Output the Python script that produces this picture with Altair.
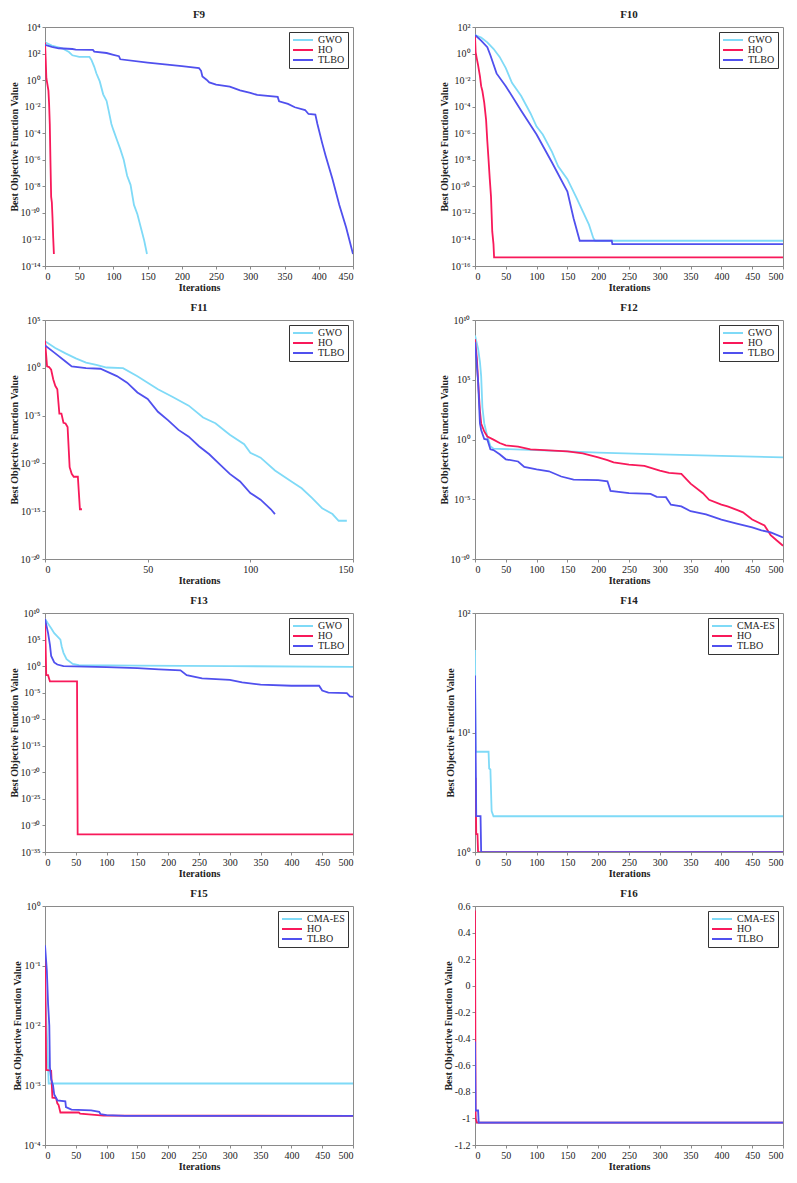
import altair as alt
import pandas as pd

# ---------------- data ----------------
# F9
F9_GWO_IT = [0, 10, 25, 35, 40, 50, 65, 68, 72, 75, 80, 85, 90, 93, 97, 100, 105, 110, 115, 120, 125, 130, 135, 140, 145, 149]
F9_GWO_V = [7e2, 4e2, 2.5e2, 1.3e2, 7.4e1, 5.6e1, 5.6e1, 3.2e1, 1e1, 3.3e0, 8e-1, 8.5e-2, 2.7e-2, 5e-3, 5e-4, 1.7e-4, 3.2e-5, 6.3e-6, 1e-6, 6.3e-8, 1.3e-8, 4e-10, 8e-11, 8e-12, 8e-13, 8e-14]
F9_HO_IT = [0, 1, 2, 5, 6, 7, 8, 9, 10, 11, 12, 13]
F9_HO_V = [7e2, 4e1, 1.4e0, 1.6e-1, 1.6e-2, 5e-4, 6.3e-7, 1.6e-9, 6.3e-10, 4e-11, 1.3e-12, 8e-14]
F9_TLBO_IT = [0, 10, 20, 40, 45, 70, 72, 90, 100, 108, 110, 150, 200, 225, 228, 230, 236, 240, 250, 270, 285, 300, 310, 340, 342, 355, 365, 380, 385, 395, 398, 405, 410, 420, 430, 440, 445, 450]
F9_TLBO_V = [4.5e2, 3.2e2, 2.5e2, 2.2e2, 2e2, 1.9e2, 1.4e2, 1.1e2, 8e1, 6.3e1, 3.7e1, 2.1e1, 1.15e1, 8e0, 5e0, 1.9e0, 1.07e0, 6.8e-1, 4.6e-1, 3.2e-1, 1.7e-1, 1.1e-1, 7.6e-2, 5.4e-2, 2.5e-2, 1.6e-2, 9e-3, 5.6e-3, 2.8e-3, 2.5e-3, 5e-4, 1.8e-5, 2e-6, 3.5e-8, 4e-10, 8e-12, 8e-13, 8e-14]

# F10
F10_GWO_IT = [0, 10, 20, 30, 40, 50, 60, 75, 90, 100, 110, 125, 135, 150, 165, 175, 185, 192, 195, 500]
F10_GWO_V = [2.5e1, 1.6e1, 7e0, 2.3e0, 5.6e-1, 8e-2, 6.3e-3, 6.3e-4, 3.2e-5, 3.2e-6, 8e-7, 4e-8, 3.2e-9, 3.5e-10, 1.3e-11, 1.3e-12, 1.3e-13, 1.3e-14, 8e-15, 8e-15]
F10_HO_IT = [0, 1, 3, 5, 8, 10, 12, 15, 18, 20, 22, 24, 26, 27, 28, 30, 31, 500]
F10_HO_V = [2.2e1, 1.3e0, 4e-1, 1.35e-1, 2e-2, 3.5e-3, 1.5e-3, 2e-4, 1e-5, 2.5e-7, 1e-8, 3.5e-10, 1.6e-11, 8e-13, 4e-14, 4.5e-15, 4.44e-16, 4.44e-16]
F10_TLBO_IT = [0, 10, 20, 25, 35, 50, 75, 100, 125, 150, 160, 170, 222, 223, 500]
F10_TLBO_V = [2.5e1, 9.3e0, 3e0, 7.4e-1, 3.2e-2, 3.5e-3, 5e-5, 8e-7, 6.3e-9, 4e-11, 4e-13, 8e-15, 8e-15, 4.4e-15, 4.4e-15]

# F11
F11_GWO_IT = [0, 5, 10, 15, 20, 25, 30, 38, 45, 50, 55, 62, 70, 77, 83, 90, 97, 100, 105, 112, 120, 125, 130, 135, 140, 143, 147]
F11_GWO_V = [6e2, 1.2e2, 3.2e1, 9.8e0, 3.5e0, 2e0, 1.07e0, 9.3e-1, 1.3e-1, 2.8e-2, 5.8e-3, 9.3e-4, 1.1e-4, 6.3e-6, 1.6e-6, 1e-7, 1e-8, 1.3e-9, 4e-10, 1.8e-11, 1.3e-12, 2.5e-13, 2.5e-14, 2e-15, 5e-16, 1e-16, 1e-16]
F11_HO_IT = [0, 1, 2, 3, 4, 5, 6, 7, 8, 9, 10, 11, 12, 13, 14, 16, 17, 18]
F11_HO_V = [7e2, 1.4e0, 1.2e0, 6.3e-1, 6.3e-2, 1.3e-2, 5.8e-3, 1.6e-5, 1.6e-5, 1.8e-6, 1.5e-6, 6.3e-7, 4e-11, 8e-12, 4e-12, 4e-12, 1.6e-15, 1.6e-15]
F11_TLBO_IT = [0, 5, 10, 13, 20, 27, 35, 40, 45, 50, 55, 60, 65, 70, 75, 80, 85, 90, 95, 100, 105, 110, 112]
F11_TLBO_V = [2.2e2, 3.2e1, 4.5e0, 1.4e0, 9.3e-1, 8e-1, 1.35e-1, 2.8e-2, 2.6e-3, 5.4e-4, 2.5e-5, 3.2e-6, 3.2e-7, 6.3e-8, 6.3e-9, 9e-10, 8.5e-11, 8e-12, 1.3e-12, 8e-14, 1.6e-14, 1.6e-15, 5e-16]

# F12
F12_GWO_IT = [0, 5, 8, 10, 12, 15, 20, 25, 30, 100, 200, 300, 400, 500]
F12_GWO_V = [5e8, 4e7, 3.2e6, 2e5, 5e2, 2.2e1, 1.8e0, 2.8e-1, 1.7e-1, 1.3e-1, 8e-2, 5.8e-2, 4.3e-2, 3.2e-2]
F12_HO_IT = [0, 3, 5, 8, 10, 15, 20, 30, 40, 50, 70, 90, 150, 175, 200, 215, 225, 250, 275, 300, 315, 335, 350, 370, 380, 400, 410, 425, 435, 450, 470, 480, 490, 500]
F12_HO_V = [2.5e8, 6.3e6, 8e4, 2.5e2, 2.2e1, 4.7e0, 1.8e0, 9.8e-1, 5.1e-1, 3.2e-1, 2.5e-1, 1.5e-1, 1e-1, 7e-2, 3.2e-2, 1.9e-2, 1.2e-2, 8e-3, 6.3e-3, 2.5e-3, 1.6e-3, 1.35e-3, 2e-4, 3.2e-5, 9e-6, 3.5e-6, 2.5e-6, 1.3e-6, 8e-7, 2e-7, 6.3e-8, 1e-8, 3.5e-9, 1.3e-9]
F12_TLBO_IT = [0, 3, 5, 8, 10, 15, 20, 25, 30, 40, 50, 70, 80, 100, 120, 140, 160, 200, 215, 220, 250, 285, 295, 310, 318, 335, 350, 375, 400, 425, 450, 465, 480, 500]
F12_TLBO_V = [1.4e8, 1.6e6, 8e4, 2.2e1, 6.3e0, 1.1e0, 1e0, 1.5e-1, 1.3e-1, 5.8e-2, 2.2e-2, 1.45e-2, 5e-3, 3.2e-3, 2.2e-3, 8e-4, 4.4e-4, 4e-4, 3.2e-4, 5e-5, 3.2e-5, 2.8e-5, 1.6e-5, 1.5e-5, 3.5e-6, 2.5e-6, 1e-6, 5.4e-7, 2e-7, 9.3e-8, 4.4e-8, 2.5e-8, 1.7e-8, 6.3e-9]

# F13
F13_GWO_IT = [0, 5, 10, 15, 20, 25, 27, 30, 35, 45, 55, 150, 300, 500]
F13_GWO_V = [8e8, 1e8, 1.3e7, 1.6e6, 4e5, 1e5, 5.6e3, 3.2e2, 2e1, 2.5e0, 1.6e0, 1.25e0, 1e0, 7.2e-1]
F13_HO_IT = [0, 1, 2, 5, 8, 52, 53, 500]
F13_HO_V = [8e8, 5.6e3, 2e-2, 2e-2, 1.3e-3, 1.3e-3, 2e-32, 2e-32]
F13_TLBO_IT = [0, 5, 8, 10, 15, 20, 30, 100, 150, 185, 220, 230, 255, 300, 320, 350, 400, 445, 450, 460, 490, 495, 500]
F13_TLBO_V = [8e8, 1.6e6, 1e4, 8e1, 5e0, 2e0, 1e0, 6.3e-1, 4e-1, 2.5e-1, 1.6e-1, 2e-2, 5e-3, 2.5e-3, 9e-4, 3.2e-4, 2e-4, 2e-4, 2.5e-5, 1e-5, 8e-6, 2e-6, 1.6e-6]

# F14
F14_CMA_IT = [0, 1, 22, 23, 25, 27, 30, 500]
F14_CMA_V = [49, 6.9, 6.9, 5.0, 4.9, 2.2, 1.992, 1.992]
F14_HO_IT = [0, 1, 2, 4, 5, 500]
F14_HO_V = [4.1, 4.1, 1.41, 1.41, 0.998, 0.998]
F14_TLBO_IT = [0, 2, 9, 10, 500]
F14_TLBO_V = [30, 2.0, 2.0, 0.998, 0.998]

# F15
F15_CMA_IT = [0, 6, 500]
F15_CMA_V = [5e-2, 1.07e-3, 1.07e-3]
F15_HO_IT = [0, 2, 10, 12, 18, 20, 22, 25, 55, 57, 95, 500]
F15_HO_V = [1.35e-1, 1.8e-3, 1.75e-3, 6.2e-4, 6.1e-4, 5e-4, 4.7e-4, 3.5e-4, 3.5e-4, 3.35e-4, 3.1e-4, 3.075e-4]
F15_TLBO_IT = [0, 3, 5, 7, 8, 10, 13, 15, 20, 33, 34, 43, 75, 88, 90, 100, 130, 500]
F15_TLBO_V = [2.2e-1, 8.3e-2, 2.3e-2, 1e-2, 2e-3, 1.26e-3, 1e-3, 7e-4, 5.6e-4, 5.4e-4, 4.3e-4, 3.9e-4, 3.8e-4, 3.6e-4, 3.3e-4, 3.15e-4, 3.075e-4, 3.075e-4]

# F16
F16_CMA_IT = [0, 3, 500]
F16_CMA_V = [-0.95, -1.0316, -1.0316]
F16_HO_IT = [0, 1, 3, 500]
F16_HO_V = [0.566, -1.0, -1.0316, -1.0316]
F16_TLBO_IT = [0, 1, 5, 6, 500]
F16_TLBO_V = [-0.42, -0.94, -0.94, -1.0316, -1.0316]

# tick values / domains
POW = lambda lo, hi, step: [10.0 ** e for e in range(lo, hi + 1, step)]
F9_YTICKS = POW(-14, 4, 2)
F10_YTICKS = POW(-16, 2, 2)
F11_YTICKS = POW(-20, 5, 5)
F12_YTICKS = POW(-10, 10, 5)
F13_YTICKS = POW(-35, 10, 5)
F14_YTICKS = POW(0, 2, 1)
F15_YTICKS = POW(-4, 0, 1)
F16_YTICKS = [-1.2, -1, -0.8, -0.6, -0.4, -0.2, 0, 0.2, 0.4, 0.6]
X500 = list(range(0, 501, 50))
X450 = list(range(0, 451, 50))
X150 = [0, 50, 100, 150]

CYAN = "#7fdaf7"
RED = "#f8195a"
BLUE = "#5050ee"
FONT = "Liberation Serif"

SUP = "['\u2070','\u00b9','\u00b2','\u00b3','\u2074','\u2075','\u2076','\u2077','\u2078','\u2079']"
E = "round(log(datum.value)/LN10)"
A = "abs(" + E + ")"
LOG_LABEL = ("'10' + (" + E + " < 0 ? '\u207b' : '') + (" + A + " >= 10 ? " + SUP +
             "[floor(" + A + "/10)] : '') + " + SUP + "[" + A + " % 10]")

W, H = 308, 239


def panel(title, series, xdom, xticks, ydom, yticks, log=True):
    rows = []
    names = []
    for name, its, vals in series:
        names.append(name)
        for i, v in zip(its, vals):
            rows.append({"it": i, "v": v, "s": name})
    df = pd.DataFrame(rows)
    if log:
        yscale = alt.Scale(type="log", domain=ydom, nice=False)
        yaxis = alt.Axis(values=yticks, labelExpr=LOG_LABEL, title="Best Objective Function Value",
                         grid=False)
    else:
        yscale = alt.Scale(domain=ydom, nice=False, zero=False)
        yaxis = alt.Axis(values=yticks, labelExpr="'' + datum.value", title="Best Objective Function Value",
                         grid=False)
    return alt.Chart(df, title=alt.Title(title)).mark_line(strokeWidth=1.8, clip=True).encode(
        x=alt.X("it:Q", scale=alt.Scale(domain=xdom, nice=False),
                axis=alt.Axis(values=xticks, title="Iterations", grid=False)),
        y=alt.Y("v:Q", scale=yscale, axis=yaxis),
        color=alt.Color("s:N", scale=alt.Scale(domain=names, range=[CYAN, RED, BLUE]),
                        legend=alt.Legend(title=None, orient="top-right")),
        order=alt.Order("it:Q"),
    ).properties(width=W, height=H)


g = ["GWO", "HO", "TLBO"]
c = ["CMA-ES", "HO", "TLBO"]

charts = [
    panel("F9", [(g[0], F9_GWO_IT, F9_GWO_V), (g[1], F9_HO_IT, F9_HO_V), (g[2], F9_TLBO_IT, F9_TLBO_V)],
          [0, 450], X450, [1e-14, 1e4], F9_YTICKS),
    panel("F10", [(g[0], F10_GWO_IT, F10_GWO_V), (g[1], F10_HO_IT, F10_HO_V), (g[2], F10_TLBO_IT, F10_TLBO_V)],
          [0, 500], X500, [1e-16, 1e2], F10_YTICKS),
    panel("F11", [(g[0], F11_GWO_IT, F11_GWO_V), (g[1], F11_HO_IT, F11_HO_V), (g[2], F11_TLBO_IT, F11_TLBO_V)],
          [0, 150], X150, [1e-20, 1e5], F11_YTICKS),
    panel("F12", [(g[0], F12_GWO_IT, F12_GWO_V), (g[1], F12_HO_IT, F12_HO_V), (g[2], F12_TLBO_IT, F12_TLBO_V)],
          [0, 500], X500, [1e-10, 1e10], F12_YTICKS),
    panel("F13", [(g[0], F13_GWO_IT, F13_GWO_V), (g[1], F13_HO_IT, F13_HO_V), (g[2], F13_TLBO_IT, F13_TLBO_V)],
          [0, 500], X500, [1e-35, 1e10], F13_YTICKS),
    panel("F14", [(c[0], F14_CMA_IT, F14_CMA_V), (c[1], F14_HO_IT, F14_HO_V), (c[2], F14_TLBO_IT, F14_TLBO_V)],
          [0, 500], X500, [1, 100], F14_YTICKS),
    panel("F15", [(c[0], F15_CMA_IT, F15_CMA_V), (c[1], F15_HO_IT, F15_HO_V), (c[2], F15_TLBO_IT, F15_TLBO_V)],
          [0, 500], X500, [1e-4, 1], F15_YTICKS),
    panel("F16", [(c[0], F16_CMA_IT, F16_CMA_V), (c[1], F16_HO_IT, F16_HO_V), (c[2], F16_TLBO_IT, F16_TLBO_V)],
          [0, 500], X500, [-1.2, 0.6], F16_YTICKS, log=False),
]

chart = alt.concat(*charts, columns=2, spacing=alt.RowColnumber(row=8, column=84)).resolve_scale(
    color="independent", x="independent", y="independent"
).configure(
    padding=0, font=FONT
).configure_view(
    stroke="#8a8a8a", strokeWidth=1
).configure_axis(
    labelFont=FONT, labelFontSize=10, labelColor="#222", labelPadding=2,
    titleFont=FONT, titleFontSize=10, titleFontWeight="bold", titleColor="#222", titlePadding=1,
    domainColor="#8a8a8a", tickColor="#8a8a8a", tickSize=3,
).configure_title(
    font=FONT, fontSize=11, fontWeight="bold", color="#222", offset=2, anchor="middle"
).configure_legend(
    labelFont=FONT, labelFontSize=10, labelColor="#222", symbolType="stroke", symbolSize=400,
    symbolStrokeWidth=2, strokeColor="#333", fillColor="white", padding=3, rowPadding=0,
    clipHeight=10, offset=5, labelOffset=4, cornerRadius=0
)

chart.save("out.html", embed_options={"renderer": "svg", "actions": False})
